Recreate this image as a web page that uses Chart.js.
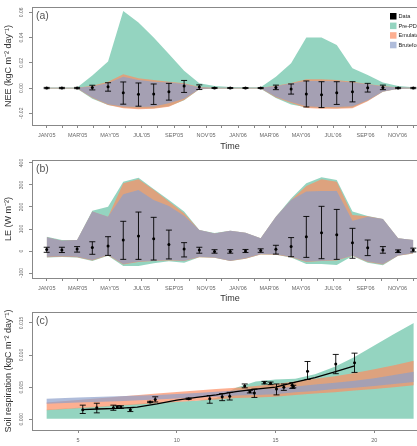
<!DOCTYPE html>
<html>
<head>
<meta charset="utf-8">
<script src="https://cdn.jsdelivr.net/npm/chart.js@4.4.1/dist/chart.umd.min.js"></script>
<style>
  html, body { margin: 0; padding: 0; background: #fff; overflow: hidden; width: 417px; height: 446px; }
  canvas { position: absolute; left: 0; }
</style>
</head>
<body>
<canvas id="chartA" width="445" height="152" style="top:0px"></canvas>
<canvas id="chartB" width="445" height="152" style="top:152px"></canvas>
<canvas id="chartC" width="445" height="142" style="top:304px"></canvas>
<script>
// time axis, days since 1 Jan 2005
var obsDays = [0, 29, 58, 87, 117, 146, 175, 204, 233, 262, 291, 320, 350, 379, 408, 437, 466, 495, 524, 553, 583, 612, 641, 670, 699];
var monthDays = [0, 31, 59, 90, 120, 151, 181, 212, 243, 273, 304, 334, 365, 396, 424, 455, 485, 516, 546, 577, 608, 638, 669, 699];
var monthLabels = ["JAN'05", "", "MAR'05", "", "MAY'05", "", "JUL'05", "", "SEP'05", "", "NOV'05", "",
                   "JAN'06", "", "MAR'06", "", "MAY'06", "", "JUL'06", "", "SEP'06", "", "NOV'06", ""];

// (a) NEE
var neeObs = [0.0000, 0.0000, 0.0000, 0.0005, 0.0010, -0.0038, -0.0050, -0.0048, -0.0030, 0.0016, 0.0008, 0.0000, 0.0000,
              0.0000, 0.0000, 0.0005, -0.0008, -0.0048, -0.0053, -0.0037, -0.0030, 0.0003, 0.0005, 0.0000, 0.0000];
var neeLo = [-0.0005, -0.0005, -0.0005, -0.0015, -0.0025, -0.0128, -0.0144, -0.0130, -0.0096, -0.0035, -0.0012, -0.0004, -0.0004,
             -0.0004, -0.0004, -0.0013, -0.0048, -0.0150, -0.0155, -0.0130, -0.0110, -0.0032, -0.0013, -0.0005, -0.0005];
var neeHi = [0.0005, 0.0005, 0.0005, 0.0022, 0.0042, 0.0048, 0.0040, 0.0032, 0.0037, 0.0060, 0.0025, 0.0004, 0.0004,
             0.0004, 0.0004, 0.0023, 0.0032, 0.0056, 0.0050, 0.0050, 0.0050, 0.0037, 0.0023, 0.0005, 0.0005];
var neePreLo = [-0.0005, -0.0005, -0.0005, -0.0085, -0.0135, -0.0155, -0.0162, -0.0160, -0.0145, -0.0096, -0.0010, -0.0005, -0.0005,
                -0.0005, -0.0005, -0.0080, -0.0130, -0.0152, -0.0158, -0.0160, -0.0155, -0.0100, -0.0030, -0.0006, -0.0005];
var neePreHi = [0.0005, 0.0005, 0.0005, 0.0100, 0.0210, 0.0610, 0.0520, 0.0400, 0.0270, 0.0136, 0.0038, 0.0016, 0.0008,
                0.0006, 0.0006, 0.0090, 0.0197, 0.0400, 0.0400, 0.0340, 0.0157, 0.0104, 0.0043, 0.0016, 0.0006];
var neeEmuLo = [-0.0003, -0.0003, -0.0003, -0.0080, -0.0135, -0.0160, -0.0168, -0.0165, -0.0148, -0.0095, -0.0010, -0.0003, -0.0003,
                -0.0003, -0.0003, -0.0075, -0.0118, -0.0158, -0.0165, -0.0165, -0.0160, -0.0105, -0.0030, -0.0005, -0.0003];
var neeEmuHi = [0.0003, 0.0003, 0.0003, 0.0018, 0.0050, 0.0110, 0.0077, 0.0064, 0.0050, 0.0037, 0.0008, 0.0003, 0.0003,
                0.0003, 0.0003, 0.0018, 0.0040, 0.0070, 0.0070, 0.0064, 0.0050, 0.0032, 0.0016, 0.0005, 0.0003];
var neeBfLo = [-0.0002, -0.0002, -0.0002, -0.0075, -0.0128, -0.0147, -0.0150, -0.0147, -0.0120, -0.0085, -0.0008, -0.0002, -0.0002,
               -0.0002, -0.0002, -0.0070, -0.0110, -0.0144, -0.0150, -0.0150, -0.0144, -0.0096, -0.0027, -0.0005, -0.0002];
var neeBfHi = [0.0002, 0.0002, 0.0002, 0.0012, 0.0040, 0.0090, 0.0064, 0.0050, 0.0043, 0.0032, 0.0005, 0.0002, 0.0002,
               0.0002, 0.0002, 0.0014, 0.0035, 0.0056, 0.0056, 0.0053, 0.0043, 0.0030, 0.0012, 0.0004, 0.0002];
var neeTicks = [-0.02, 0, 0.02, 0.04, 0.06];
var neeTickLabels = ["-0.02", "0.00", "0.02", "0.04", "0.06"];

// (b) LE
var leObs = [7, 5, 9, 16, 23, 50, 68, 56, 29, 9, 5, -2, -2, 0, 2, 8, 20, 65, 83, 74, 38, 15, 5, -1, 4];
var leLo = [-6, -7, -5, -15, -20, -38, -38, -41, -36, -27, -10, -10, -10, -7, -6, -14, -26, -29, -35, -38, -33, -21, -10, -7, -4];
var leHi = [17, 17, 20, 42, 65, 135, 177, 153, 95, 38, 17, 6, 6, 7, 10, 26, 61, 157, 203, 189, 103, 50, 20, 5, 13];
var lePreLo = [-30, -27, -29, -45, -22, -68, -68, -56, -47, -53, -28, -31, -46, -35, -16, -17, -29, -59, -59, -64, -23, -53, -65, -22, -11];
var lePreHi = [65, 50, 50, 183, 201, 315, 333, 282, 232, 179, 95, 82, 92, 83, 58, 156, 239, 308, 335, 323, 179, 159, 145, 58, 50];
var leEmuLo = [-28, -26, -28, -43, -20, -61, -50, -46, -43, -46, -28, -31, -46, -35, -16, -17, -28, -50, -46, -43, -22, -50, -61, -22, -11];
var leEmuHi = [62, 47, 50, 179, 156, 308, 326, 278, 225, 172, 95, 80, 92, 83, 58, 156, 232, 295, 326, 315, 164, 158, 145, 58, 50];
var leBfLo = [-26, -24, -26, -41, -18, -59, -48, -44, -41, -44, -26, -29, -44, -33, -14, -15, -26, -48, -44, -41, -20, -48, -59, -20, -9];
var leBfHi = [62, 47, 50, 179, 156, 258, 277, 232, 204, 160, 95, 80, 92, 83, 58, 156, 232, 270, 273, 273, 138, 156, 145, 58, 50];
var leTicks = [-100, 0, 100, 200, 300, 400];
var leTickLabels = ["-100", "0", "100", "200", "300", "400"];

// (c) soil respiration
var soilX = [5.24, 5.95, 6.79, 6.99, 7.17, 7.65, 8.65, 8.91, 10.6, 11.67, 12.3, 12.68, 13.44, 13.7, 13.93, 14.44, 14.75, 15.05, 15.42, 15.85, 15.9, 16.62, 18.05, 19.0];
var soilObs = [0.0015, 0.0018, 0.0018, 0.0019, 0.0019, 0.0015, 0.0027, 0.0031, 0.0032, 0.0032, 0.0035, 0.0036, 0.0052, 0.0043, 0.0041, 0.0057, 0.0056, 0.0047, 0.0050, 0.0053, 0.0051, 0.0075, 0.0086, 0.0088];
var soilLo = [0.0009, 0.0010, 0.0014, 0.0017, 0.0017, 0.0012, 0.0026, 0.0027, 0.0031, 0.0025, 0.0029, 0.0030, 0.0049, 0.0041, 0.0034, 0.0055, 0.0054, 0.0038, 0.0045, 0.0048, 0.0049, 0.0062, 0.0071, 0.0073];
var soilHi = [0.0022, 0.0025, 0.0022, 0.0021, 0.0021, 0.0018, 0.0028, 0.0035, 0.0033, 0.0037, 0.0040, 0.0042, 0.0055, 0.0045, 0.0047, 0.0059, 0.0058, 0.0055, 0.0055, 0.0057, 0.0053, 0.0090, 0.0101, 0.0103];
var fitX = [5.2, 6, 7, 8, 9, 10, 11, 12, 13, 14, 15, 16, 17, 18, 19];
var fitY = [0.0015, 0.0016, 0.0017, 0.0019, 0.0024, 0.0030, 0.0034, 0.0038, 0.0043, 0.0047, 0.0050, 0.0058, 0.0065, 0.0074, 0.0083];
var bandX = [3.4, 5, 7, 9, 11, 12, 13, 14, 15, 16, 17, 18, 19, 20, 21, 22];
var soilPreLo = [0.0001, 0.0001, 0.0001, 0.0001, 0.0001, 0.0001, 0.0001, 0.0001, 0.0001, 0.0001, 0.0001, 0.0001, 0.0001, 0.0001, 0.0001, 0.0001];
var soilPreHi = [0.0015, 0.0018, 0.0022, 0.0026, 0.0029, 0.0033, 0.0049, 0.0059, 0.0062, 0.0063, 0.0070, 0.0082, 0.0097, 0.0115, 0.0133, 0.0150];
var soilEmuLo = [0.0014, 0.0017, 0.0021, 0.0025, 0.0029, 0.0031, 0.0033, 0.0034, 0.0035, 0.0038, 0.0040, 0.0042, 0.0045, 0.0047, 0.0050, 0.0053];
var soilEmuHi = [0.0026, 0.0030, 0.0035, 0.0040, 0.0045, 0.0047, 0.0049, 0.0052, 0.0055, 0.0059, 0.0063, 0.0067, 0.0072, 0.0078, 0.0084, 0.0091];
var soilBfLo = [0.0024, 0.0026, 0.0028, 0.0031, 0.0034, 0.0035, 0.0037, 0.0038, 0.0039, 0.0042, 0.0044, 0.0047, 0.0049, 0.0052, 0.0055, 0.0058];
var soilBfHi = [0.0032, 0.0034, 0.0036, 0.0038, 0.0041, 0.0043, 0.0045, 0.0047, 0.0048, 0.0051, 0.0054, 0.0057, 0.0060, 0.0064, 0.0069, 0.0074];
var soilTicks = [0, 0.005, 0.010, 0.015];
var soilTickLabels = ["0.000", "0.005", "0.010", "0.015"];
var tempTicks = [5, 10, 15, 20];
var tempLabels = ["5", "10", "15", "20"];

var legendNames = ["Data", "Pre-PDA", "Emulator", "Bruteforce"];
var legendColors = ["#000000", "rgba(102,194,165,0.7)", "rgba(252,141,98,0.7)", "rgba(141,160,203,0.7)"];

var GREEN = "rgba(102,194,165,0.7)", ORANGE = "rgba(252,141,98,0.7)", BLUE = "rgba(141,160,203,0.7)";
var FONT = '"Liberation Sans", Arial, sans-serif';

function pts(xs, ys) {
  return xs.map(function(x, i) { return {x: x, y: ys[i]}; });
}

function band(xs, lo, hi, color, order) {
  return [
    {data: pts(xs, lo), borderWidth: 0, borderColor: 'rgba(0,0,0,0)', pointRadius: 0, fill: false, order: order},
    {data: pts(xs, hi), borderWidth: 0, borderColor: 'rgba(0,0,0,0)', pointRadius: 0, fill: '-1', backgroundColor: color, order: order}
  ];
}

function observed(xs, ys, lo, hi) {
  var seg = [];
  xs.forEach(function(x, i) { seg.push({x: x, y: lo[i]}, {x: x, y: hi[i]}, {x: x, y: null}); });
  return [
    {data: seg, borderColor: '#000', borderWidth: 0.9, pointRadius: 0, spanGaps: false, fill: false, order: 2},
    {data: pts(xs, lo).concat(pts(xs, hi)), showLine: false, pointStyle: 'line', pointRadius: 3,
     pointBorderColor: '#000', pointBorderWidth: 0.9, order: 2},
    {data: pts(xs, ys), showLine: false, pointRadius: 1.5, pointBackgroundColor: '#000',
     pointBorderColor: '#000', pointBorderWidth: 0, order: 1}
  ];
}

var decor = {
  id: 'decor',
  afterDraw: function(chart, args, opts) {
    var ctx = chart.ctx, a = chart.chartArea, ys = chart.scales.y;
    ctx.save();
    ctx.strokeStyle = '#888';
    ctx.lineWidth = 1;
    ctx.strokeRect(a.left + 0.5, a.top + 0.5, a.right - a.left, a.bottom - a.top);

    ctx.fillStyle = '#666';
    ctx.font = '5px ' + FONT;
    ctx.textAlign = 'center';
    ctx.textBaseline = 'middle';
    opts.yTicks.forEach(function(v, i) {
      ctx.save();
      ctx.translate(22, ys.getPixelForValue(v));
      ctx.rotate(-Math.PI / 2);
      ctx.fillText(opts.yLabels[i], 0, 0);
      ctx.restore();
    });

    ctx.fillStyle = '#555';
    ctx.font = '10.5px ' + FONT;
    ctx.textAlign = 'left';
    ctx.fillText(opts.letter, a.left + 4, a.top + 9.5);

    if (opts.legend) {
      ctx.font = '5.6px ' + FONT;
      legendNames.forEach(function(name, i) {
        var y = 13 + i * 9.6;
        ctx.fillStyle = legendColors[i];
        ctx.fillRect(390, y, 6.5, 6.5);
        ctx.fillStyle = '#222';
        ctx.fillText(name, 398.5, y + 3.4);
      });
    }
    ctx.restore();
  }
};

function makeChart(id, datasets, o) {
  return new Chart(document.getElementById(id), {
    type: 'line',
    data: {datasets: datasets},
    options: {
      responsive: false,
      animation: false,
      events: [],
      layout: {padding: {top: o.padTop, left: 0, right: 17, bottom: 0}},
      plugins: {
        legend: {display: false},
        tooltip: {enabled: false},
        decor: {yTicks: o.yTicks, yLabels: o.yLabels, letter: o.letter, legend: o.legend}
      },
      scales: {
        x: {
          type: 'linear', min: o.xMin, max: o.xMax,
          afterBuildTicks: function(s) { s.ticks = o.xTicks.map(function(v) { return {value: v}; }); },
          afterFit: function(s) { s.height = o.xHeight; },
          ticks: {autoSkip: false, maxRotation: 0, minRotation: 0, padding: 4, color: '#666',
                  font: {size: 5.5, family: FONT},
                  callback: function(v, i) { return o.xLabels[i]; }},
          grid: {drawOnChartArea: false, drawTicks: true, tickLength: 3, color: '#888'},
          border: {display: false},
          title: {display: !!o.xTitle, text: o.xTitle || '', color: '#333',
                  font: {size: 9, family: FONT}, padding: {top: 0, bottom: 0}}
        },
        y: {
          min: o.yMin, max: o.yMax,
          afterBuildTicks: function(s) { s.ticks = o.yTicks.map(function(v) { return {value: v}; }); },
          afterFit: function(s) { s.width = 32; },
          ticks: {display: false},
          grid: {drawOnChartArea: false, drawTicks: true, tickLength: 3, color: '#888'},
          border: {display: false},
          title: {display: true, text: o.yTitle, color: '#333',
                  font: {size: 9, family: FONT}, padding: {top: 3, bottom: 0}}
        }
      }
    },
    plugins: [decor]
  });
}

makeChart('chartA',
  [].concat(
    band(obsDays, neePreLo, neePreHi, GREEN, 30),
    band(obsDays, neeEmuLo, neeEmuHi, ORANGE, 20),
    band(obsDays, neeBfLo, neeBfHi, BLUE, 10),
    observed(obsDays, neeObs, neeLo, neeHi)
  ),
  {padTop: 7, xHeight: 27, xMin: -28, xMax: 727, xTicks: monthDays, xLabels: monthLabels, xTitle: 'Time',
   yMin: -0.0293, yMax: 0.0642, yTicks: neeTicks, yLabels: neeTickLabels,
   yTitle: 'NEE (kgC m\u207B\u00B2 day\u207B\u00B9)', letter: '(a)', legend: true});

makeChart('chartB',
  [].concat(
    band(obsDays, lePreLo, lePreHi, GREEN, 30),
    band(obsDays, leEmuLo, leEmuHi, ORANGE, 20),
    band(obsDays, leBfLo, leBfHi, BLUE, 10),
    observed(obsDays, leObs, leLo, leHi)
  ),
  {padTop: 8, xHeight: 26, xMin: -28, xMax: 727, xTicks: monthDays, xLabels: monthLabels, xTitle: 'Time',
   yMin: -122.7, yMax: 413.6, yTicks: leTicks, yLabels: leTickLabels,
   yTitle: 'LE (W m\u207B\u00B2)', letter: '(b)', legend: false});

makeChart('chartC',
  [].concat(
    band(bandX, soilPreLo, soilPreHi, GREEN, 30),
    band(bandX, soilEmuLo, soilEmuHi, ORANGE, 20),
    band(bandX, soilBfLo, soilBfHi, BLUE, 10),
    [{data: pts(fitX, fitY), borderColor: '#000', borderWidth: 1.3, pointRadius: 0, fill: false, order: 3}],
    observed(soilX, soilObs, soilLo, soilHi)
  ),
  {padTop: 8, xHeight: 16, xMin: 2.67, xMax: 22.72, xTicks: tempTicks, xLabels: tempLabels, xTitle: null,
   yMin: -0.00167, yMax: 0.01671, yTicks: soilTicks, yLabels: soilTickLabels,
   yTitle: 'Soil respiration (kgC m\u207B\u00B2 day\u207B\u00B9)', letter: '(c)', legend: false});
</script>
</body>
</html>
